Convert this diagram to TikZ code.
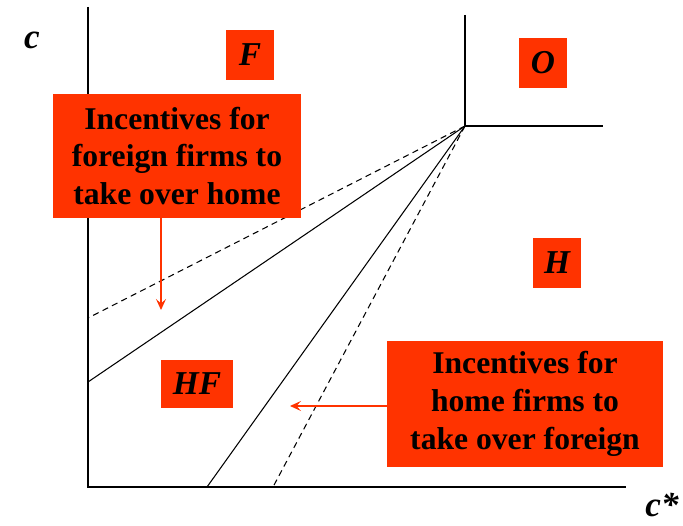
\documentclass[tikz,border=0pt]{standalone}
\usepackage{fontspec}
\setmainfont{Liberation Serif}
\usetikzlibrary{arrows.meta,positioning,calc}
\definecolor{boxred}{HTML}{FF3300}

\begin{document}
\begin{tikzpicture}[x=0.02cm, y=-0.02cm,
    region/.style={rectangle, fill=boxred, minimum width=0.96cm, minimum height=1cm, inner sep=0pt, font=\fontsize{19}{21}\selectfont\bfseries\itshape},
    note/.style={rectangle, fill=boxred, align=center, inner sep=0pt, font=\fontsize{18}{21.5}\selectfont\bfseries},
    axis/.style={line width=0.6pt},
    bound/.style={line width=0.6pt},
    dashbound/.style={line width=0.6pt, dash pattern=on 3.5pt off 2.5pt},
    pointer/.style={draw=boxred, line width=0.7pt, -{Stealth[length=2.2mm, width=2mm, inset=0.9mm]}}]
    \useasboundingbox (0,0) rectangle (683,526);

    % axes
    \coordinate (o) at (88,487);
    \coordinate (ctop) at (88,7);
    \coordinate (cend) at (626,487);
    \draw[axis] (ctop) -- (o) -- (cend);
    \node[font=\fontsize{20}{22}\selectfont\bfseries\itshape] (cl) at (32,40) {c};
    \node[font=\fontsize{20}{22}\selectfont\bfseries\itshape] (csl) at (662,505) {c*};

    % kink and boundaries
    \coordinate (k) at (465,126);
    \coordinate (ktop) at (465,15);
    \coordinate (kright) at (603,126);
    \draw[bound] (ktop) -- (k) -- (kright);
    \draw[bound] (k) -- (88,382);
    \draw[bound] (k) -- (207,487);
    \draw[dashbound] (k) -- (88,318);
    \draw[dashbound] (k) -- (273,487);

    % regions
    \node[region] (F) at (250,55) {F};
    \node[region] (O) at (543,63) {O};
    \node[region] (H) at (557,263) {H};
    \node[region, minimum width=1.46cm, minimum height=0.96cm] (HF) at (197,384) {HF};

    % incentives
    \node[note, minimum width=4.96cm, minimum height=2.48cm] (fnote) at (177,156) {Incentives for\\ foreign firms to\\ take over home};
    \node[note, minimum width=5.52cm, minimum height=2.54cm] (hnote) at (525,404) {Incentives for\\ home firms to\\ take over foreign};

    \coordinate (fend) at (161,310);
    \coordinate (hend) at (290,406);
    \draw[pointer] (fnote.south -| fend) -- (fend);
    \draw[pointer] (hnote.west |- hend) -- (hend);
\end{tikzpicture}
\end{document}
